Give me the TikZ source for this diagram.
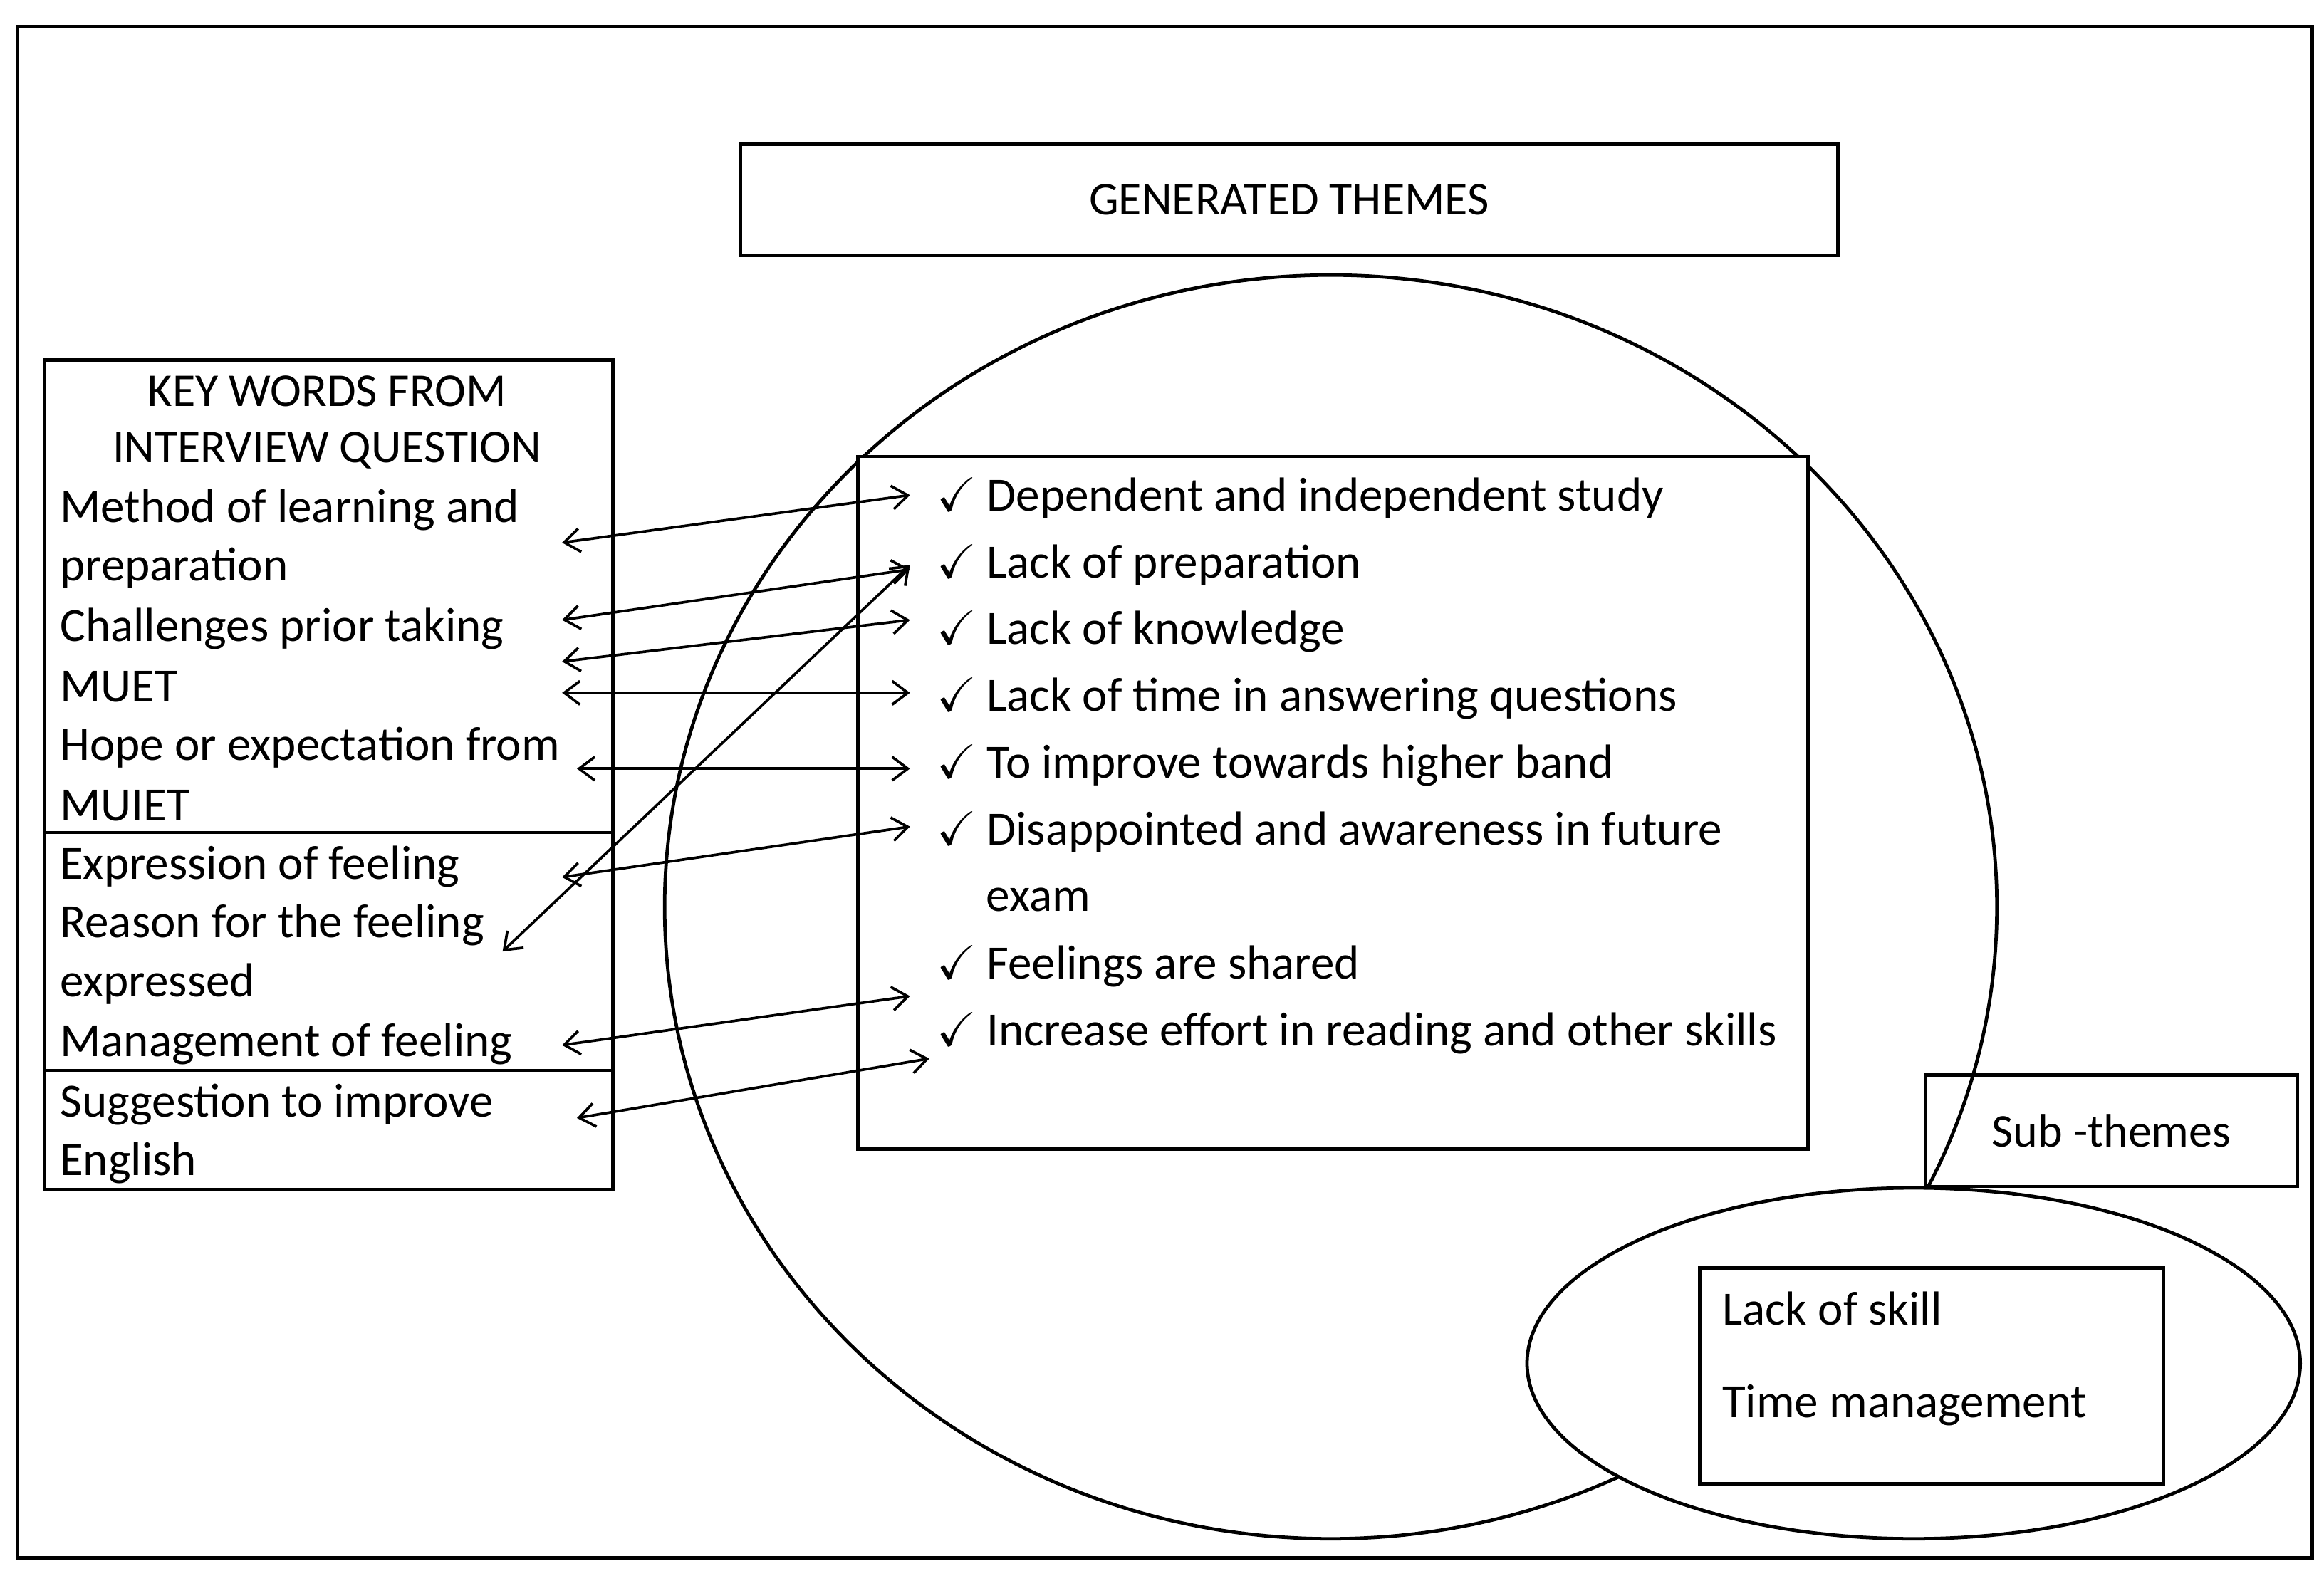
\documentclass[tikz,border=0pt]{standalone}
\usepackage{fontspec}
\setmainfont{Carlito}
\usepackage{amssymb}
\usetikzlibrary{arrows.meta}
\begin{document}
\begin{tikzpicture}[x=0.02cm,y=-0.02cm,
  txt/.style={anchor=west,inner sep=0pt,font=\fontsize{18.3}{21}\selectfont},
  box/.style={draw,line width=1.3pt},
  arr/.style={{Straight Barb[length=6pt,width=9pt]}-{Straight Barb[length=6pt,width=9pt]},line width=1pt}]
\useasboundingbox (0,0) rectangle (1563,1060);
\fill[white] (0,0) rectangle (1563,1060);
\draw[line width=1.3pt] (12,18) rectangle (1555,1048);
\node[box,minimum width=738*0.02cm,minimum height=75*0.02cm,font=\fontsize{18}{20}\selectfont] (gt) at (867,134.5) {GENERATED THEMES};
\draw[line width=1.3pt] (895,610) ellipse [x radius=448, y radius=425];
\draw[box,fill=white] (577,307) rectangle (1216,773);
\draw[box,fill=white] (30,242) rectangle (412,800);
\draw[line width=1.3pt] (30,560) -- (412,560) (30,720) -- (412,720);
\node[font=\fontsize{18}{20}\selectfont] (kw1) at (220,263) {KEY WORDS FROM};
\node[font=\fontsize{18}{20}\selectfont] (kw2) at (220,303) {INTERVIEW QUESTION};
\foreach \t/\y in {Method of learning and/343,preparation/382,Challenges prior taking/423,MUET/462,Hope or expectation from/503,MUIET/542,Expression of feeling/583,Reason for the feeling/622,expressed/662,Management of feeling/702,Suggestion to improve/743,English/782}
  \node[txt] at (40,\y) {\t};
\foreach \t/\y in {Dependent and independent study/335,Lack of preparation/380,Lack of knowledge/425,Lack of time in answering questions/470,To improve towards higher band/515,Disappointed and awareness in future/560,Feelings are shared/650,Increase effort in reading and other skills/695}
  \node[txt] at (630,\y) {$\checkmark$\hspace{0.2em}\t};
\node[txt] at (663,605) {exam};
\foreach \i/\a/\b/\c/\d in {1/378/365/612/333,2/378/417/612/383,3/378/445/612/417,4/378/466/612/466,5/388/517/612/517,6/378/590/612/556,7/338/640/612/380,8/378/703/612/670,9/388/752/625/712}{
  \coordinate (l\i) at (\a,\b); \coordinate (r\i) at (\c,\d);
  \draw[arr] (l\i) -- (r\i);}
\node[box,minimum width=250*0.02cm,minimum height=75*0.02cm,font=\fontsize{18}{20}\selectfont] (st) at (1420,760.5) {Sub -themes};
\draw[line width=1.3pt,fill=white] (1287,917) ellipse [x radius=260, y radius=118];
\draw[box] (1143,853) rectangle (1455,998);
\node[txt] at (1158,880) {Lack of skill};
\node[txt] at (1158,945) {Time management};
\end{tikzpicture}
\end{document}
